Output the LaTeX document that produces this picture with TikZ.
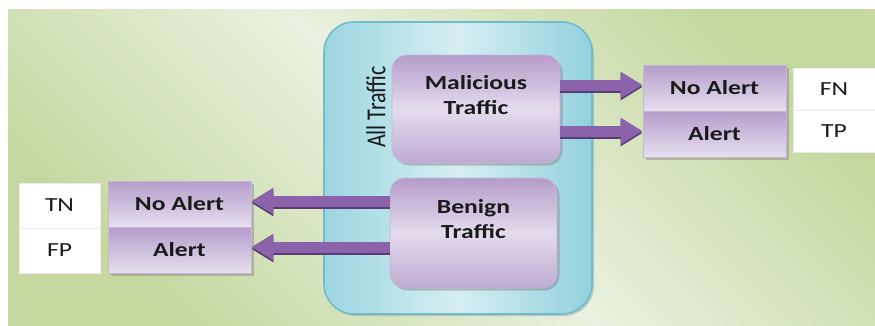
\documentclass[tikz,border=0pt]{standalone}
\usepackage{fontspec}
\setmainfont{Carlito}[FakeStretch=1.28]
\newfontfamily\plainfont{Carlito}
\usetikzlibrary{arrows.meta,shadows}
\definecolor{bgG}{HTML}{C4D8A0}
\definecolor{bgL}{HTML}{EAF1DF}
\definecolor{blueEdge}{HTML}{92D1DD}
\definecolor{blueMid}{HTML}{D6EEF3}
\definecolor{blueBorder}{HTML}{6DBDCE}
\definecolor{purTop}{HTML}{B59DCB}
\definecolor{purBot}{HTML}{E7DFEF}
\definecolor{purMid}{HTML}{E4DBED}
\definecolor{purBorder}{HTML}{C6B6D6}
\definecolor{arrowc}{HTML}{8B63AB}
\definecolor{arrowdark}{HTML}{5A3B76}
\definecolor{txt}{HTML}{1A1A1A}
\begin{document}
\begin{tikzpicture}[x=1pt,y=-1pt,
  container/.style={draw=blueBorder, line width=1.6pt, rounded corners=30pt,
    left color=blueEdge!85!blueMid, right color=blueEdge, middle color=blueMid,
    drop shadow={shadow xshift=2pt, shadow yshift=-2pt, opacity=0.35}},
  pbox/.style={draw=purBorder, line width=0.8pt, rounded corners=15pt,
    top color=purTop, bottom color=purTop!80!purBot, middle color=purMid,
    drop shadow={shadow xshift=2.5pt, shadow yshift=-2.5pt, opacity=0.45}},
  cell/.style={draw=purBorder, line width=0.8pt, minimum width=143pt, minimum height=46pt,
    top color=purTop, bottom color=purBot, inner sep=0pt,
    font=\fontsize{20}{24}\bfseries\selectfont, text=txt,
    drop shadow={shadow xshift=2.5pt, shadow yshift=-2.5pt, opacity=0.45}},
  wcell/.style={fill=white, draw=black!8, line width=0.6pt, inner sep=0pt,
    font=\fontsize{20}{24}\selectfont, text=txt},
  lbl/.style={font=\fontsize{20}{25}\bfseries\selectfont, text=txt, align=center},
  fat/.style={line width=11pt, draw=arrowc, -{Triangle[length=22pt,width=25pt]}},
  fatshadow/.style={line width=11pt, draw=arrowdark, -{Triangle[length=22pt,width=25pt]}}
]
\useasboundingbox (0,0) rectangle (875,325);
\shade[top color=bgG, bottom color=bgG, middle color=bgL, shading angle=-45] (8,9) rectangle (875,325);

% container
\node[container, minimum width=268pt, minimum height=292pt] (all) at (458,168) {};
\node[rotate=90, font=\plainfont\fontsize{22}{26}\selectfont, text=txt, inner sep=0pt] (alltxt) at (376,107) {\scalebox{1}[1.25]{All Traffic}};

% traffic boxes
\node[pbox, minimum width=168pt, minimum height=108pt,
  label={[lbl, yshift=14pt]center:{Malicious\\Traffic}}] (mal) at (476,109) {};
\node[pbox, minimum width=167pt, minimum height=110pt,
  label={[lbl, yshift=14pt]center:{Benign\\Traffic}}] (ben) at (473.5,233) {};

% right outcome cells
\node[cell] (rna) at (714.5,88) {No Alert};
\node[cell] (ra) at (714.5,134) {Alert};
\node[wcell, minimum width=82pt, minimum height=42pt] (fn) at (834,89) {FN};
\node[wcell, minimum width=82pt, minimum height=42pt] (tp) at (834,131) {TP};

% left outcome cells
\node[cell] (lna) at (179.5,204) {No Alert};
\node[cell] (la) at (179.5,250) {Alert};
\node[wcell, minimum width=81pt, minimum height=45pt] (tn) at (59.5,205.5) {TN};
\node[wcell, minimum width=81pt, minimum height=45pt] (fp) at (59.5,250.5) {FP};

% arrows
\begin{scope}[transform canvas={yshift=1pt}]
  \draw[fatshadow] (mal.east |- rna.west) -- (rna.west);
  \draw[fatshadow] (mal.east |- ra.west) -- (ra.west);
  \draw[fatshadow] (ben.west |- lna.east) -- (lna.east);
  \draw[fatshadow] (ben.west |- la.east) -- (la.east);
\end{scope}
\begin{scope}[transform canvas={yshift=3pt}]
  \draw[fat] (mal.east |- rna.west) -- (rna.west);
  \draw[fat] (mal.east |- ra.west) -- (ra.west);
  \draw[fat] (ben.west |- lna.east) -- (lna.east);
  \draw[fat] (ben.west |- la.east) -- (la.east);
\end{scope}
\end{tikzpicture}
\end{document}
